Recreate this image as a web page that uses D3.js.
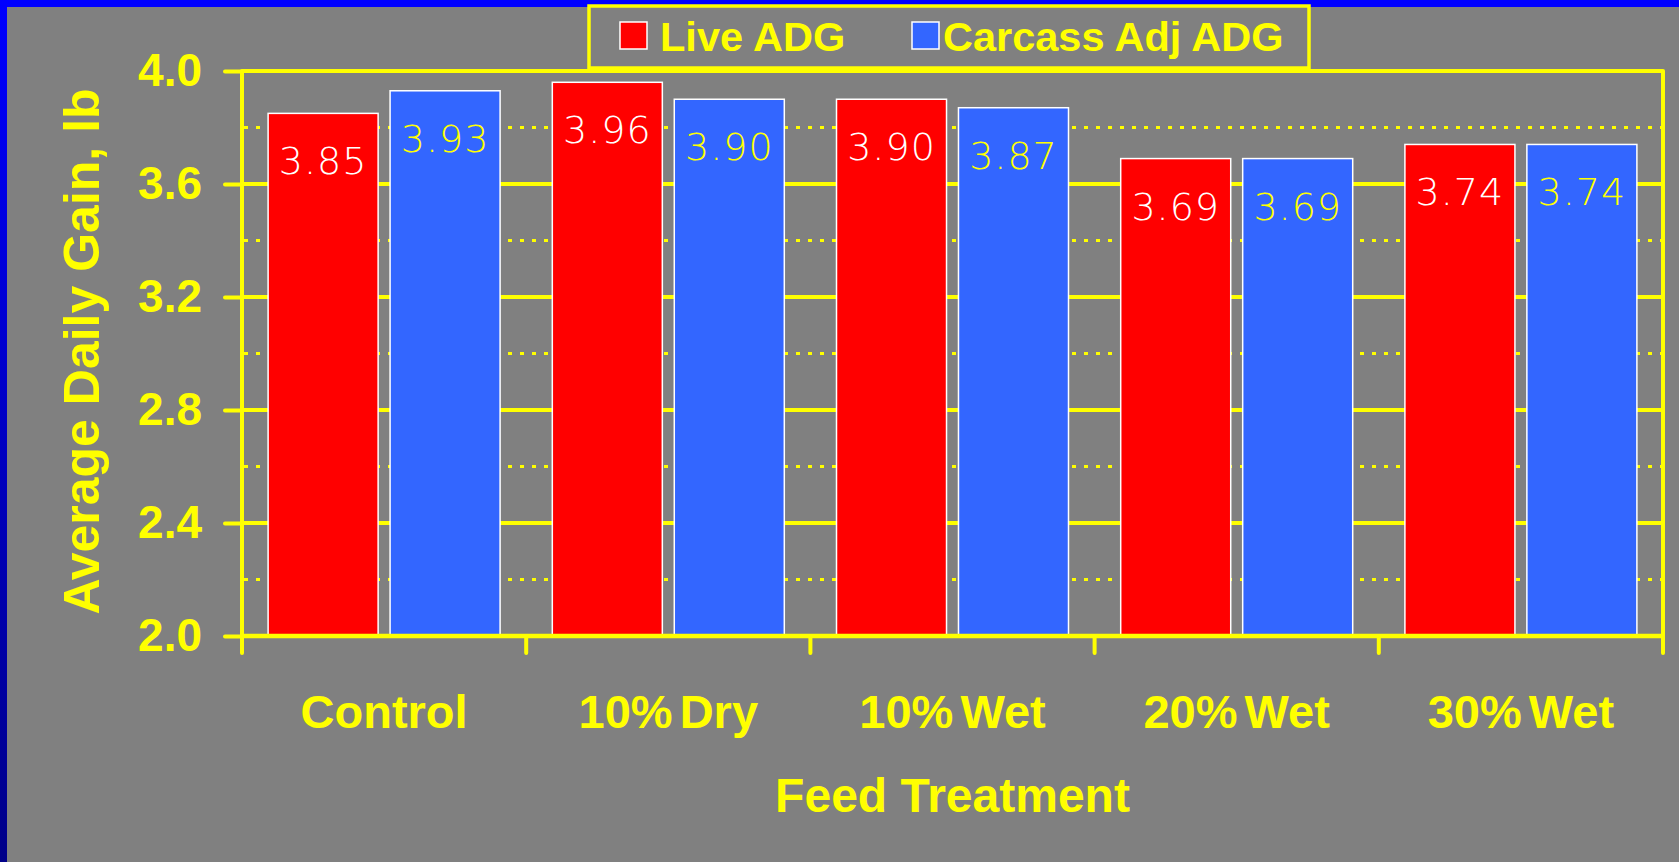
<!DOCTYPE html>
<html>
<head>
<meta charset="utf-8">
<script src="https://cdn.jsdelivr.net/npm/d3@7"></script>
<style>
	body { margin: 0; background: #808080; overflow: hidden; }
	svg { display: block; }
</style>
</head>
<body>
<script>
// DATA
const categories = ['Control', '10% Dry', '10% Wet', '20% Wet', '30% Wet'];
const seriesNames = ['Live ADG', 'Carcass Adj ADG'];
const liveADG = [3.85, 3.96, 3.90, 3.69, 3.74];
const carcassADG = [3.93, 3.90, 3.87, 3.69, 3.74];
const majorTicks = [2.0, 2.4, 2.8, 3.2, 3.6, 4.0];
const minorTicks = [2.2, 2.6, 3.0, 3.4, 3.8];

// CONFIGURATION
const width = 1679;
const height = 862;
const plotLeft = 242;
const plotRight = 1663;
const plotTop = 71;
const plotBottom = 636;
const yellow = '#ffff00';
const colors = ['#ff0000', '#3366ff'];
const labelColors = ['#ffffff', '#ffff00'];
const boldFont = '"Liberation Sans", Arial, sans-serif';

const rows = categories.map((category, i) => ({
	category: category,
	values: [liveADG[i], carcassADG[i]]
}));

const svg = d3.select('body')
	.append('svg')
	.attr('width', width)
	.attr('height', height);

// BACKGROUND & FRAME
const grad = svg.append('defs')
	.append('linearGradient')
	.attr('id', 'edge')
	.attr('x1', 0).attr('y1', 0).attr('x2', 0).attr('y2', 1);
grad.append('stop').attr('offset', '0%').attr('stop-color', '#0000ff');
grad.append('stop').attr('offset', '100%').attr('stop-color', '#000088');

svg.append('rect')
	.attr('width', width)
	.attr('height', height)
	.attr('fill', '#808080');
svg.append('rect')
	.attr('width', width)
	.attr('height', 7)
	.attr('fill', '#0000ff');
svg.append('rect')
	.attr('width', 7)
	.attr('height', height)
	.attr('fill', 'url(#edge)');

// SCALES
const x0 = d3.scaleBand()
	.domain(categories)
	.range([plotLeft, plotRight]);
const x1 = d3.scaleBand()
	.domain(seriesNames)
	.range([0, x0.bandwidth()])
	.paddingInner(0.098)
	.paddingOuter(0.214);
const y = d3.scaleLinear()
	.domain([2.0, 4.0])
	.range([plotBottom, plotTop]);

// GRIDLINES
svg.append('g')
	.selectAll('line')
	.data(majorTicks.slice(1))
	.enter()
	.append('line')
	.attr('x1', plotLeft)
	.attr('x2', plotRight)
	.attr('y1', d => y(d))
	.attr('y2', d => y(d))
	.attr('stroke', yellow)
	.attr('stroke-width', 4);

svg.append('g')
	.selectAll('line')
	.data(minorTicks)
	.enter()
	.append('line')
	.attr('x1', plotLeft + 2)
	.attr('x2', plotRight)
	.attr('y1', d => y(d))
	.attr('y2', d => y(d))
	.attr('stroke', yellow)
	.attr('stroke-width', 3)
	.attr('stroke-dasharray', '4 8');

// BARS
const groups = svg.append('g')
	.selectAll('g')
	.data(rows)
	.enter()
	.append('g')
	.attr('transform', d => `translate(${x0(d.category)}, 0)`);

groups.selectAll('rect')
	.data(d => d.values.map((v, i) => ({ name: seriesNames[i], value: v, i: i })))
	.enter()
	.append('rect')
	.attr('x', d => x1(d.name))
	.attr('y', d => y(d.value))
	.attr('width', x1.bandwidth())
	.attr('height', d => y(2.0) - y(d.value))
	.attr('fill', d => colors[d.i])
	.attr('stroke', '#ffffff')
	.attr('stroke-width', 1.5);

groups.selectAll('text')
	.data(d => d.values.map((v, i) => ({ name: seriesNames[i], value: v, i: i })))
	.enter()
	.append('text')
	.attr('x', d => x1(d.name) + x1.bandwidth() / 2)
	.attr('y', d => y(d.value) + 61)
	.attr('text-anchor', 'middle')
	.attr('fill', d => labelColors[d.i])
	.style('font-family', '"DejaVu Sans", Verdana, sans-serif')
	.style('font-weight', 200)
	.style('font-size', '38px')
	.style('letter-spacing', '1px')
	.text(d => d.value.toFixed(2));

// AXES
const yAxis = d3.axisLeft(y)
	.tickValues(majorTicks)
	.tickSize(17)
	.tickSizeOuter(0)
	.tickPadding(23)
	.tickFormat(d3.format('.1f'));
const yAxisG = svg.append('g')
	.attr('transform', `translate(${plotLeft}, 0)`)
	.call(yAxis);
yAxisG.select('.domain').remove();
yAxisG.selectAll('line')
	.attr('stroke', yellow)
	.attr('stroke-width', 4)
	.attr('stroke-linecap', 'round');
yAxisG.selectAll('text')
	.attr('fill', yellow)
	.style('font-family', boldFont)
	.style('font-weight', 'bold')
	.style('font-size', '46px');

// frame lines: top and bottom
svg.append('line')
	.attr('x1', plotLeft).attr('x2', plotRight)
	.attr('y1', plotTop).attr('y2', plotTop)
	.attr('stroke', yellow).attr('stroke-width', 3.5);
svg.append('line')
	.attr('x1', plotLeft).attr('x2', plotRight)
	.attr('y1', plotBottom).attr('y2', plotBottom)
	.attr('stroke', yellow).attr('stroke-width', 4.5);

const xAxis = d3.axisBottom(x0)
	.tickSize(0)
	.tickSizeOuter(0)
	.tickPadding(59);
const xAxisG = svg.append('g')
	.attr('transform', `translate(0, ${plotBottom})`)
	.call(xAxis);
xAxisG.select('.domain').remove();
xAxisG.selectAll('text')
	.attr('fill', yellow)
	.style('font-family', boldFont)
	.style('font-weight', 'bold')
	.style('font-size', '47px')
	.style('word-spacing', '-6px');

// category boundary ticks (also the left and right frame edges)
const edges = categories.map(c => x0(c)).concat([x0.range()[1]]);
svg.append('g')
	.selectAll('line')
	.data(edges)
	.enter()
	.append('line')
	.attr('x1', d => d)
	.attr('x2', d => d)
	.attr('y1', (d, i) => (i === 0 || i === edges.length - 1) ? plotTop : plotBottom)
	.attr('y2', plotBottom + 17)
	.attr('stroke', yellow)
	.attr('stroke-width', 4)
	.attr('stroke-linecap', 'round');

// AXIS TITLES
svg.append('text')
	.attr('transform', `translate(99, ${(plotTop + plotBottom) / 2 - 2}) rotate(-90)`)
	.attr('text-anchor', 'middle')
	.attr('fill', yellow)
	.style('font-family', boldFont)
	.style('font-weight', 'bold')
	.style('font-size', '50px')
	.text('Average Daily Gain, lb');

svg.append('text')
	.attr('x', (plotLeft + plotRight) / 2)
	.attr('y', 812)
	.attr('text-anchor', 'middle')
	.attr('fill', yellow)
	.style('font-family', boldFont)
	.style('font-weight', 'bold')
	.style('font-size', '48px')
	.text('Feed Treatment');

// LEGEND
const legend = svg.append('g');
legend.append('rect')
	.attr('x', 589)
	.attr('y', 6)
	.attr('width', 720)
	.attr('height', 62)
	.attr('fill', '#808080')
	.attr('stroke', yellow)
	.attr('stroke-width', 3.5);

const legendX = [620, 912];
const legendItems = legend.selectAll('g')
	.data(seriesNames)
	.enter()
	.append('g')
	.attr('transform', (d, i) => `translate(${legendX[i]}, 22)`);
legendItems.append('rect')
	.attr('width', 27)
	.attr('height', 27)
	.attr('fill', (d, i) => colors[i])
	.attr('stroke', '#ffffff')
	.attr('stroke-width', 1.5);
legendItems.append('text')
	.attr('x', (d, i) => i === 0 ? 40 : 31)
	.attr('y', 28.5)
	.attr('fill', yellow)
	.style('font-family', boldFont)
	.style('font-weight', 'bold')
	.style('font-size', '41.5px')
	.text(d => d);
</script>
</body>
</html>
